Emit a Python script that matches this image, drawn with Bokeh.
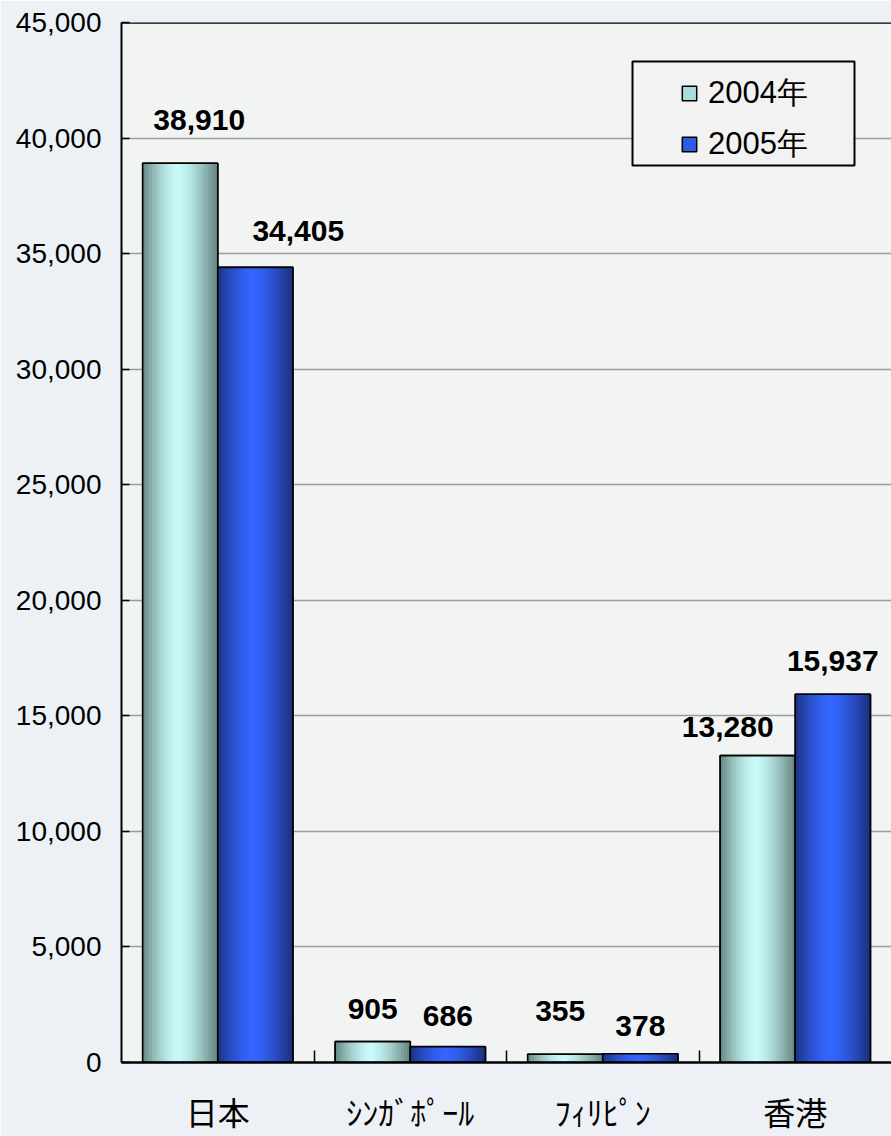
import numpy as np
from bokeh.plotting import figure
from bokeh.models import (ColumnDataSource, Range1d, FixedTicker, NumeralTickFormatter,
                          Legend, LegendItem, Span, BoxAnnotation)
from bokeh.core.properties import value
from bokeh.embed import file_html
from bokeh.resources import INLINE

# ---------------- data ----------------
categories = ["日本", "ｼﾝｶﾞﾎﾟｰﾙ", "ﾌｨﾘﾋﾟﾝ", "香港"]
series_names = ["2004年", "2005年"]
values_2004 = [38910, 905, 355, 13280]
values_2005 = [34405, 686, 378, 15937]
y_ticks = [0, 5000, 10000, 15000, 20000, 25000, 30000, 35000, 40000, 45000]

# ---------------- style ----------------
BAR_W = 0.39
N_STRIPS = 24
series_style = [
    dict(dark_l=(92, 123, 118), dark_r=(108, 139, 135), light=(200, 250, 250), legend="#a9dcda"),
    dict(dark_l=(26, 44, 120), dark_r=(30, 50, 132), light=(51, 102, 255), legend="#2e5ae6"),
]
# manual label nudges (pixels): right, and distance of label centre above bar top
label_dx = [[19, 0, -5, -30], [43, 0, 0, 0]]
label_dy = [[43, 33, 43, 29], [36, 31, 28, 33]]


def shade(t, st):
    s = max(0.0, 1.0 - (abs(t - 0.47) / 0.5) ** 1.5)
    dark = [a + (b - a) * t for a, b in zip(st["dark_l"], st["dark_r"])]
    c = [int(round(d + s * (l - d))) for d, l in zip(dark, st["light"])]
    return "#%02x%02x%02x" % tuple(c)


p = figure(width=891, height=1136,
           x_range=Range1d(-0.5, len(categories) - 0.5),
           y_range=Range1d(0, 45000),
           output_backend="svg", toolbar_location=None,
           min_border_left=121, min_border_top=22, min_border_right=0, min_border_bottom=72)

p.border_fill_color = "#edf1f5"
p.background_fill_color = "#f2f3f3"
p.outline_line_color = None

# x axis
p.xaxis.ticker = FixedTicker(ticks=list(range(len(categories))),
                             minor_ticks=[i + 0.5 for i in range(len(categories) - 1)])
p.xaxis.major_label_overrides = {i: c for i, c in enumerate(categories)}
p.xaxis.major_tick_in = 0
p.xaxis.major_tick_out = 0
p.xaxis.minor_tick_in = 12
p.xaxis.minor_tick_out = 0
p.xaxis.minor_tick_line_color = "black"
p.xaxis.minor_tick_line_width = 1.5
p.xaxis.axis_line_color = "black"
p.xaxis.axis_line_width = 2.5
p.xaxis.major_label_text_font = "Noto Sans CJK JP"
p.xaxis.major_label_text_font_size = "32px"
p.xaxis.major_label_text_color = "black"
p.xaxis.major_label_standoff = 25

# y axis
p.yaxis.ticker = FixedTicker(ticks=y_ticks, minor_ticks=[])
p.yaxis.formatter = NumeralTickFormatter(format="0,0")
p.yaxis.major_tick_in = 8
p.yaxis.major_tick_out = 0
p.yaxis.major_tick_line_color = "black"
p.yaxis.major_tick_line_width = 1.5
p.yaxis.minor_tick_line_color = None
p.yaxis.axis_line_color = "black"
p.yaxis.axis_line_width = 2
p.yaxis.major_label_text_font = "Liberation Sans"
p.yaxis.major_label_text_font_size = "28px"
p.yaxis.major_label_text_color = "black"
p.yaxis.major_label_standoff = 20

p.xgrid.visible = False
p.ygrid.grid_line_color = "#9c9c9c"
p.ygrid.grid_line_width = 1.5

p.add_layout(Span(location=45000, dimension="width", line_color="black", line_width=2.5))

legend_items = []
for k, (vals, name) in enumerate(zip([values_2004, values_2005], series_names)):
    st = series_style[k]
    off = (k - 0.5) * BAR_W
    xs = [i + off for i in range(len(categories))]
    base = p.vbar(x=xs, top=vals, width=BAR_W, bottom=0,
                  fill_color=st["legend"], line_color="black", line_width=1.5)
    sx, stop, scol = [], [], []
    w = BAR_W / N_STRIPS
    for i, v in enumerate(vals):
        left = xs[i] - BAR_W / 2
        for j in range(N_STRIPS):
            t = (j + 0.5) / N_STRIPS
            sx.append(left + (j + 0.5) * w + 0.15 * w)
            stop.append(v)
            scol.append(shade(t, st))
    src = ColumnDataSource(dict(x=sx, top=stop, color=scol))
    p.vbar(x="x", top="top", bottom=0, width=w * 1.35, fill_color="color",
           line_color=None, source=src)
    p.vbar(x=xs, top=vals, width=BAR_W, bottom=0,
           fill_color=None, line_color="black", line_width=1.6)
    for i, v in enumerate(vals):
        p.text(x=[xs[i]], y=[v], text=[f"{v:,}"],
               text_font=value("Liberation Sans"), text_font_style="bold",
               text_font_size="30px", text_color="black",
               text_align="center", text_baseline="middle",
               x_offset=label_dx[k][i], y_offset=-label_dy[k][i])
    legend_items.append(LegendItem(label=name, renderers=[base]))

box = BoxAnnotation(left=511, right=733, bottom=897, top=1001,
                    left_units="screen", right_units="screen",
                    bottom_units="screen", top_units="screen",
                    fill_color="#f2f2f2", fill_alpha=1.0,
                    line_color="black", line_width=2, line_alpha=1.0)
p.add_layout(box)

legend = Legend(items=legend_items, location=(559, 897), orientation="vertical",
                padding=0, margin=0, spacing=9,
                glyph_width=18, glyph_height=18, label_height=36,
                label_standoff=10,
                label_text_font="Liberation Sans", label_text_font_size="31px",
                label_text_color="black",
                border_line_color=None, background_fill_alpha=0)
p.add_layout(legend)

open("out.html", "w").write(file_html(p, INLINE))
